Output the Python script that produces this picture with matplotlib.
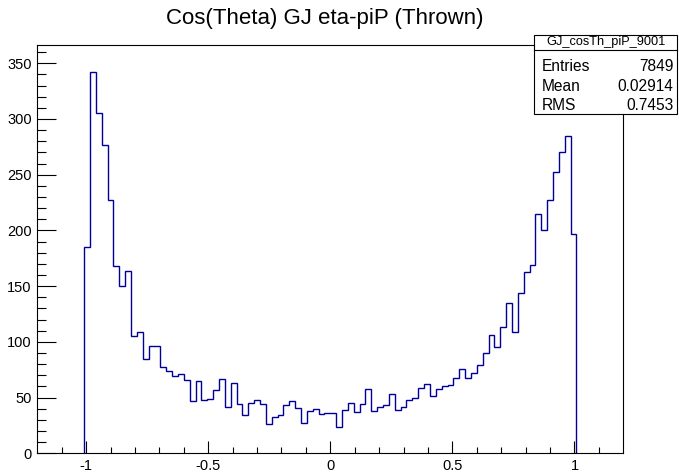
import numpy as np
import matplotlib
matplotlib.use('Agg')
from matplotlib import pyplot as plt
from matplotlib.patches import Rectangle
from matplotlib.lines import Line2D

plt.rcParams['font.family'] = ['Liberation Sans', 'DejaVu Sans']
plt.rcParams['axes.unicode_minus'] = False

# histogram GJ_cosTh_piP_9001, bins of 0.024 from -1.008 to 1.008
bin_lo = -1.008
bin_hi = 1.008
counts = [185, 342, 305, 277, 227, 168, 150, 164, 105, 109,
          85, 96, 96, 77, 74, 69, 71, 66, 47, 65,
          48, 49, 57, 67, 42, 63, 44, 34, 45, 48,
          44, 26, 33, 34, 43, 47, 41, 27, 38, 40,
          35, 36, 36, 24, 39, 45, 37, 44, 58, 38,
          42, 43, 53, 39, 42, 48, 50, 59, 62, 51,
          58, 60, 61, 68, 76, 68, 72, 79, 90, 106,
          95, 113, 135, 109, 144, 163, 169, 215, 200, 227,
          252, 270, 285, 197]
edges = np.linspace(bin_lo, bin_hi, len(counts) + 1)

title = 'Cos(Theta) GJ eta-piP (Thrown)'
hist_name = 'GJ_cosTh_piP_9001'
stat_names = ['Entries', 'Mean', 'RMS']
stat_values = ['7849', '0.02914', '0.7453']

fig = plt.figure(figsize=(6.79, 4.72), dpi=100)
ax = fig.add_axes([0.0549, 0.0396, 0.8631, 0.8651])

ax.stairs(counts, edges, baseline=0, color='#000099', linewidth=1.0)

ax.set_xlim(-1.2, 1.2)
ax.set_ylim(0, 366.4)
ax.set_xticks([-1, -0.5, 0, 0.5, 1])
ax.set_xticklabels(['-1', '-0.5', '0', '0.5', '1'])
ax.set_xticks(np.arange(-1.1, 1.15, 0.1), minor=True)
ax.set_yticks(np.arange(0, 351, 50))
ax.set_yticks(np.arange(0, 361, 10), minor=True)

ax.tick_params(axis='both', which='both', direction='in', labelsize=10.5, width=0.8)
ax.tick_params(axis='x', which='major', length=8.4, pad=4)
ax.tick_params(axis='x', which='minor', length=4.6)
ax.tick_params(axis='y', which='major', length=13.4, pad=4)
ax.tick_params(axis='y', which='minor', length=6.7)
for s in ax.spines.values():
    s.set_linewidth(0.8)

fig.text(0.4786, 0.960, title, ha='center', va='center', fontsize=16)

# stats box
box = Rectangle((0.7865, 0.7585), 0.2105, 0.1673, transform=fig.transFigure,
                facecolor='white', edgecolor='black', linewidth=0.8, zorder=5)
fig.patches.append(box)
fig.lines.append(Line2D([0.7865, 0.997], [0.894, 0.894], transform=fig.transFigure,
                        color='black', linewidth=0.8, zorder=6))
fig.text(0.8918, 0.910, hist_name, ha='center', va='center', fontsize=9.2, zorder=7)
rows_y = [0.8587, 0.8163, 0.7775]
for name, val, y in zip(stat_names, stat_values, rows_y):
    fig.text(0.7978, y, name, ha='left', va='center', fontsize=11.2, zorder=7)
    fig.text(0.9916, y, val, ha='right', va='center', fontsize=11.2, zorder=7)

fig.savefig('out.png', dpi=100)
